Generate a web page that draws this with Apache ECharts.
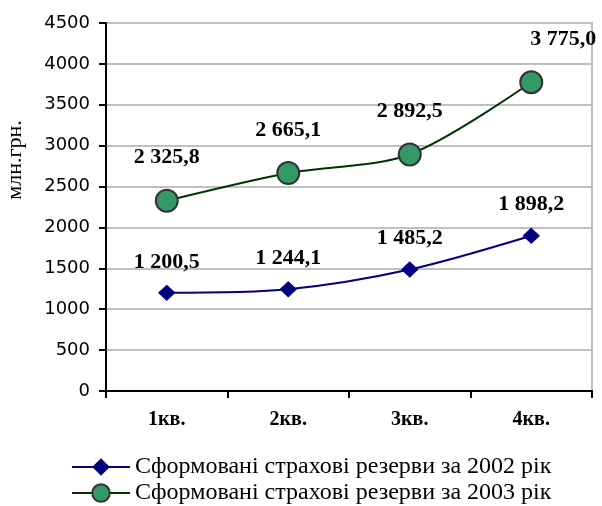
<!DOCTYPE html>
<html>
<head>
<meta charset="utf-8">
<script src="https://cdn.jsdelivr.net/npm/echarts@6/dist/echarts.min.js"></script>
<style>
html,body{margin:0;padding:0;background:#fff}
#main{width:602px;height:506px}
</style>
</head>
<body>
<div id="main"></div>
<script>
var quarters = ['1кв.', '2кв.', '3кв.', '4кв.']
var reserves2002 = [1200.5, 1244.1, 1485.2, 1898.2]
var reserves2003 = [2325.8, 2665.1, 2892.5, 3775.0]
var names = ['Сформовані страхові резерви за 2002 рік', 'Сформовані страхові резерви за 2003 рік']

var fmt = function(params){
    var parts = params.value.toFixed(1).split('.')
    var s = parts[0].replace(/\B(?=(\d{3})+(?!\d))/g, ' ')
    return s + ',' + parts[1]
}

var label_style = {
    show: true,
    position: 'top',
    formatter: fmt,
    fontFamily: 'Liberation Serif',
    fontWeight: 'bold',
    fontSize: 22,
    color: '#000'
}

// last labels sit a bit to the right in the original
var with_shift = function(arr, dx){
    return arr.map(function(v, i){
        if(i == arr.length - 1) return {value: v, label: {offset: [dx, 0]}}
        return v
    })
}

var legend_text = {fontFamily: 'Liberation Serif', fontSize: 24, color: '#000'}

var chart = echarts.init(document.getElementById('main'))

var opt = {
    animation: false,
    grid: {
        left: 106, right: 10, top: 23, bottom: 115,
        outerBoundsMode: 'none',
        containLabel: false,
        show: true,
        borderColor: '#c0c0c0',
        borderWidth: 2
    },
    legend: [
        {
            left: 66, top: 450,
            itemWidth: 58, itemHeight: 22,
            textStyle: legend_text,
            data: [names[0]]
        },
        {
            left: 66, top: 476,
            itemWidth: 58, itemHeight: 22,
            textStyle: legend_text,
            data: [names[1]]
        }
    ],
    xAxis: {
        type: 'category',
        data: quarters,
        boundaryGap: true,
        axisLine: {lineStyle: {color: '#000', width: 2}},
        axisTick: {show: true, length: 7, lineStyle: {color: '#000', width: 2}},
        axisLabel: {
            margin: 19,
            fontFamily: 'Liberation Serif',
            fontWeight: 'bold',
            fontSize: 20,
            color: '#000'
        },
        splitLine: {show: false}
    },
    yAxis: {
        type: 'value',
        min: 0, max: 4500, interval: 500,
        name: 'млн.грн.',
        nameLocation: 'middle',
        nameGap: 80,
        nameTextStyle: {fontFamily: 'Liberation Serif', fontSize: 22, color: '#000', padding: [0, 0, 0, 94]},
        axisLine: {show: true, lineStyle: {color: '#000', width: 2}},
        axisTick: {show: true, length: 7, lineStyle: {color: '#000', width: 2}},
        axisLabel: {
            margin: 16,
            fontFamily: 'DejaVu Sans',
            fontSize: 18,
            color: '#000',
            formatter: function(v){ return String(v) }
        },
        splitLine: {lineStyle: {color: '#c0c0c0', width: 2}}
    },
    series: [
        {
            name: names[0],
            type: 'line',
            smooth: 0.3,
            data: reserves2002,
            symbol: 'diamond',
            symbolSize: [16, 15],
            lineStyle: {color: '#000080', width: 2},
            itemStyle: {color: '#000080', borderColor: '#000080'},
            label: Object.assign({}, label_style, {distance: 12})
        },
        {
            name: names[1],
            type: 'line',
            smooth: 0.3,
            data: with_shift(reserves2003, 32),
            symbol: 'circle',
            symbolSize: 22,
            lineStyle: {color: '#003300', width: 2},
            itemStyle: {color: '#339966', borderColor: '#333333', borderWidth: 2},
            label: Object.assign({}, label_style, {distance: 20})
        }
    ]
}

chart.setOption(opt)
</script>
</body>
</html>
